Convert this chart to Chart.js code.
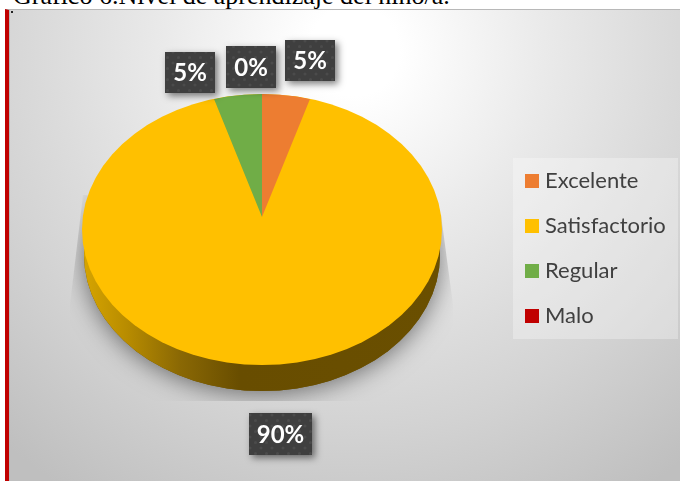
<!DOCTYPE html>
<html>
<head>
<meta charset="utf-8">
<script src="https://cdn.jsdelivr.net/npm/chart.js@4"></script>
<style>
	html, body { margin: 0; padding: 0; background: #fff; overflow: hidden; }
	#page { position: relative; width: 680px; height: 481px; overflow: hidden; }
	#caption { position: absolute; left: 0; top: 0; width: 680px; height: 9px; overflow: hidden; }
	#caption span { position: absolute; left: 13px; top: -19px; font: 26px "Liberation Serif", serif; color: #000; white-space: nowrap; }
	#panel {
		position: absolute; left: 5px; top: 9px; width: 675px; height: 472px; box-sizing: border-box;
		border-left: 4px solid #c00000; border-top: 1px solid #b8b8b8;
		box-shadow: inset 1px 0 0 #b8b8b8;
		background: radial-gradient(circle at 345px 41px, #fff 0, #fff 45px, #eaeaea 190px, #dcdcdc 300px, #d3d3d3 375px, #bfbfbf 525px);
	}
	#handle { position: absolute; left: 11px; top: 11px; width: 2px; height: 2px; background: #222; }
	#chart { position: absolute; left: 0; top: 0; }
</style>
</head>
<body>
<div id="page">
	<div id="caption"><span>Gráfico 6.Nivel de aprendizaje del niño/a.</span></div>
	<div id="panel"></div>
	<div id="handle"></div>
	<canvas id="chart" width="680" height="481"></canvas>
</div>
<script>
const categories = ["Excelente", "Satisfactorio", "Regular", "Malo"]
const values = [5, 90, 5, 0]
const colors = ["#ED7D31", "#FFC000", "#70AD47", "#C00000"]

// page positions of the dark value tags, same order as categories
const tagBoxes = [
	[285, 40, 50, 41],
	[249, 413, 63, 42],
	[165, 52, 50, 41],
	[226, 46, 50, 42],
]

const top_face = { x: 262, y: 229.5, rx: 180, ry: 135.5 }
const bottom_face = { x: 262, y: 255, rx: 178, ry: 136 }
// small slices meet a little above the middle of the tilted disc
const apex = { x: 262, y: 217, rx: 155.3, ry: 124 }

function project(ctx, arc, face) {
	ctx.translate(face.x, face.y)
	ctx.scale(face.rx / arc.outerRadius, face.ry / arc.outerRadius)
	ctx.translate(-arc.x, -arc.y)
}

function dotPattern(ctx) {
	const tile = document.createElement("canvas")
	tile.width = 11
	tile.height = 11
	const t = tile.getContext("2d")
	t.fillStyle = "#3f3f3f"
	t.fillRect(0, 0, 11, 11)
	t.fillStyle = "#4b4b4b"
	t.beginPath()
	t.arc(2.5, 2.5, 1.6, 0, Math.PI * 2)
	t.arc(8, 8, 1.6, 0, Math.PI * 2)
	t.fill()
	return ctx.createPattern(tile, "repeat")
}

const tiltedPie = {
	id: "tiltedPie",
	beforeDatasetsDraw(chart) {
		const ctx = chart.ctx
		const arcs = chart.getDatasetMeta(0).data
		const first = arcs[0]

		// soft shadow under the disc, cut off like a rendered bitmap
		ctx.save()
		ctx.beginPath()
		ctx.moveTo(83, 195)
		ctx.lineTo(70, 305)
		ctx.lineTo(70, 401)
		ctx.lineTo(453, 401)
		ctx.lineTo(453, 305)
		ctx.lineTo(441, 215)
		ctx.closePath()
		ctx.clip()
		ctx.shadowColor = "rgba(0,0,0,0.5)"
		ctx.shadowBlur = 24
		ctx.shadowOffsetY = 3
		ctx.fillStyle = "#6a4f00"
		ctx.beginPath()
		ctx.ellipse(bottom_face.x, bottom_face.y, bottom_face.rx, bottom_face.ry, 0, 0, Math.PI * 2)
		ctx.fill()
		ctx.restore()

		// side wall: the disc again, lower down, with a darkening fill
		const wall = ctx.createLinearGradient(first.x - first.outerRadius, 0, first.x + first.outerRadius, 0)
		wall.addColorStop(0, "#d6a400")
		wall.addColorStop(0.12, "#b88c00")
		wall.addColorStop(0.27, "#8a6804")
		wall.addColorStop(0.44, "#684d00")
		wall.addColorStop(1, "#6a4f00")
		ctx.save()
		project(ctx, first, bottom_face)
		ctx.fillStyle = wall
		ctx.beginPath()
		ctx.arc(first.x, first.y, first.outerRadius, 0, Math.PI * 2)
		ctx.fill()
		ctx.restore()

		// top face: the largest slice's colour under the whole ellipse
		ctx.save()
		project(ctx, first, top_face)
		ctx.fillStyle = arcs[1].options.backgroundColor
		ctx.beginPath()
		ctx.arc(first.x, first.y, first.outerRadius, 0, Math.PI * 2)
		ctx.fill()

		// the small slices, clipped to the top face
		ctx.clip()
		ctx.setTransform(1, 0, 0, 1, 0, 0)
		project(ctx, first, apex)
		arcs.forEach((arc, i) => {
			if (i !== 1) arc.draw(ctx)
		})
		ctx.restore()
		return false
	},
	afterDraw(chart) {
		const ctx = chart.ctx
		const total = values.reduce((a, b) => a + b, 0)
		const pattern = dotPattern(ctx)

		// value tags
		values.forEach((v, i) => {
			const [x, y, w, h] = tagBoxes[i]
			ctx.save()
			ctx.shadowColor = "rgba(0,0,0,0.5)"
			ctx.shadowBlur = 7
			ctx.shadowOffsetX = 3
			ctx.shadowOffsetY = 3
			ctx.fillStyle = pattern
			ctx.fillRect(x, y, w, h)
			ctx.restore()
			ctx.fillStyle = "#fff"
			ctx.font = 'bold 24px Lato, sans-serif'
			ctx.textAlign = "center"
			ctx.textBaseline = "middle"
			ctx.fillText(Math.round(v / total * 100) + "%", x + w / 2, y + h / 2 + 1)
		})

		// legend
		ctx.fillStyle = "rgba(255,255,255,0.3)"
		ctx.fillRect(513, 158, 165, 181)
		ctx.font = '22px Lato, sans-serif'
		ctx.textAlign = "left"
		ctx.textBaseline = "middle"
		categories.forEach((name, i) => {
			const y = 181 + i * 45
			ctx.fillStyle = colors[i]
			ctx.fillRect(525, y - 7, 14, 14)
			ctx.fillStyle = "#404040"
			ctx.fillText(name, 545, y)
		})
	},
}

new Chart(document.getElementById("chart"), {
	type: "pie",
	data: {
		labels: categories,
		datasets: [{
			data: values,
			backgroundColor: colors,
			borderWidth: 0,
		}],
	},
	options: {
		responsive: false,
		animation: false,
		plugins: {
			legend: { display: false },
			tooltip: { enabled: false },
		},
	},
	plugins: [tiltedPie],
})
</script>
</body>
</html>
